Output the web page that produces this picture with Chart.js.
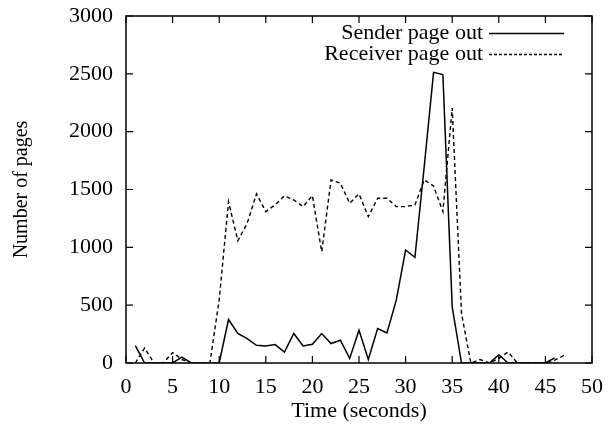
<!DOCTYPE html>
<html>
<head>
<meta charset="utf-8">
<script src="https://cdn.jsdelivr.net/npm/chart.js@4/dist/chart.umd.min.js"></script>
<style>
  html, body { margin:0; padding:0; background:#fff; }
</style>
</head>
<body>
<canvas id="chart" width="615" height="432"></canvas>
<script>
// data (one sample per second)
const seconds = [1,2,3,4,5,6,7,8,9,10,11,12,13,14,15,16,17,18,19,20,21,22,23,24,
                 25,26,27,28,29,30,31,32,33,34,35,36,37,38,39,40,41,42,43,44,45,46,47];
const senderPageOut = [150,0,0,0,0,50,0,0,0,0,376,255,211,153,147,159,95,255,147,162,255,168,197,40,
                       283,30,298,260,543,977,913,1700,2513,2493,485,0,0,0,0,72,0,0,0,0,0,45];
const receiverPageOut = [0,130,0,0,90,30,0,0,0,545,1395,1057,1208,1462,1309,1367,1445,1410,1352,1447,962,1583,1555,1381,
                         1462,1265,1424,1424,1352,1352,1367,1583,1530,1309,2204,428,0,30,0,40,95,0,0,0,0,25,66];
const xTicks = [0,5,10,15,20,25,30,35,40,45,50];
const yTicks = [0,500,1000,1500,2000,2500,3000];

const FONT = "'Liberation Serif', 'Times New Roman', serif";
const toPoints = (vals) => vals.map((v, i) => ({ x: seconds[i], y: v }));

// gnuplot-like frame, inward ticks on all sides, legend inside top right
const framePlugin = {
  id: "frame",
  afterDatasetsDraw(chart) {
    const { ctx, chartArea: a, scales: { x, y } } = chart;
    ctx.save();
    ctx.strokeStyle = "#000";
    ctx.lineWidth = 1.5;
    ctx.strokeRect(a.left, a.top, a.right - a.left, a.bottom - a.top);
    ctx.lineWidth = 1.2;
    ctx.beginPath();
    xTicks.forEach(v => {
      const px = x.getPixelForValue(v);
      ctx.moveTo(px, a.bottom); ctx.lineTo(px, a.bottom - 7);
      ctx.moveTo(px, a.top);    ctx.lineTo(px, a.top + 7);
    });
    yTicks.forEach(v => {
      const py = y.getPixelForValue(v);
      ctx.moveTo(a.left, py);  ctx.lineTo(a.left + 7, py);
      ctx.moveTo(a.right, py); ctx.lineTo(a.right - 7, py);
    });
    ctx.stroke();

    // legend
    ctx.font = "22px " + FONT;
    ctx.fillStyle = "#000";
    ctx.textAlign = "right";
    ctx.textBaseline = "middle";
    chart.data.datasets.forEach((ds, i) => {
      const ly = Math.round(a.top + 17 + i * 20.6) + 0.5;
      ctx.fillText(ds.label, a.right - 109, ly);
      ctx.lineWidth = 1.3;
      ctx.setLineDash(ds.borderDash ? [3, 2] : []);
      ctx.beginPath();
      ctx.moveTo(a.right - 103, ly);
      ctx.lineTo(a.right - 28, ly);
      ctx.stroke();
      ctx.setLineDash([]);
    });
    ctx.restore();
  }
};

new Chart(document.getElementById("chart"), {
  type: "line",
  data: {
    datasets: [
      { label: "Sender page out", data: toPoints(senderPageOut),
        borderColor: "#000", borderWidth: 1.5, fill: false },
      { label: "Receiver page out", data: toPoints(receiverPageOut),
        borderColor: "#000", borderWidth: 1.4, borderDash: [4, 3], fill: false }
    ]
  },
  options: {
    responsive: false,
    animation: false,
    devicePixelRatio: 1,
    layout: { padding: { left: 0, right: 23, top: 16, bottom: 0 } },
    elements: { point: { radius: 0 }, line: { tension: 0 } },
    plugins: { legend: { display: false }, tooltip: { enabled: false } },
    scales: {
      x: {
        type: "linear", min: 0, max: 50,
        afterBuildTicks: s => { s.ticks = xTicks.map(v => ({ value: v })); },
        afterFit: s => { s.height = 69; s.paddingLeft = 0; s.paddingRight = 0; },
        grid: { display: false, drawTicks: false },
        border: { display: false },
        ticks: { color: "#000", padding: 11, maxRotation: 0, autoSkip: false,
                 callback: v => String(v), font: { family: FONT, size: 22 } },
        title: { display: true, text: "Time (seconds)", color: "#000",
                 font: { family: FONT, size: 22 }, padding: { top: 0, bottom: 8 } }
      },
      y: {
        min: 0, max: 3000,
        afterBuildTicks: s => { s.ticks = yTicks.map(v => ({ value: v })); },
        afterFit: s => { s.width = 126; s.paddingTop = 0; s.paddingBottom = 0; },
        grid: { display: false, drawTicks: false },
        border: { display: false },
        ticks: { color: "#000", padding: 13, callback: v => String(v),
                 font: { family: FONT, size: 22 } },
        title: { display: true, text: "Number of pages", color: "#000",
                 font: { family: FONT, size: 20 }, padding: { top: 10, bottom: 0 } }
      }
    }
  },
  plugins: [framePlugin]
});
</script>
</body>
</html>
